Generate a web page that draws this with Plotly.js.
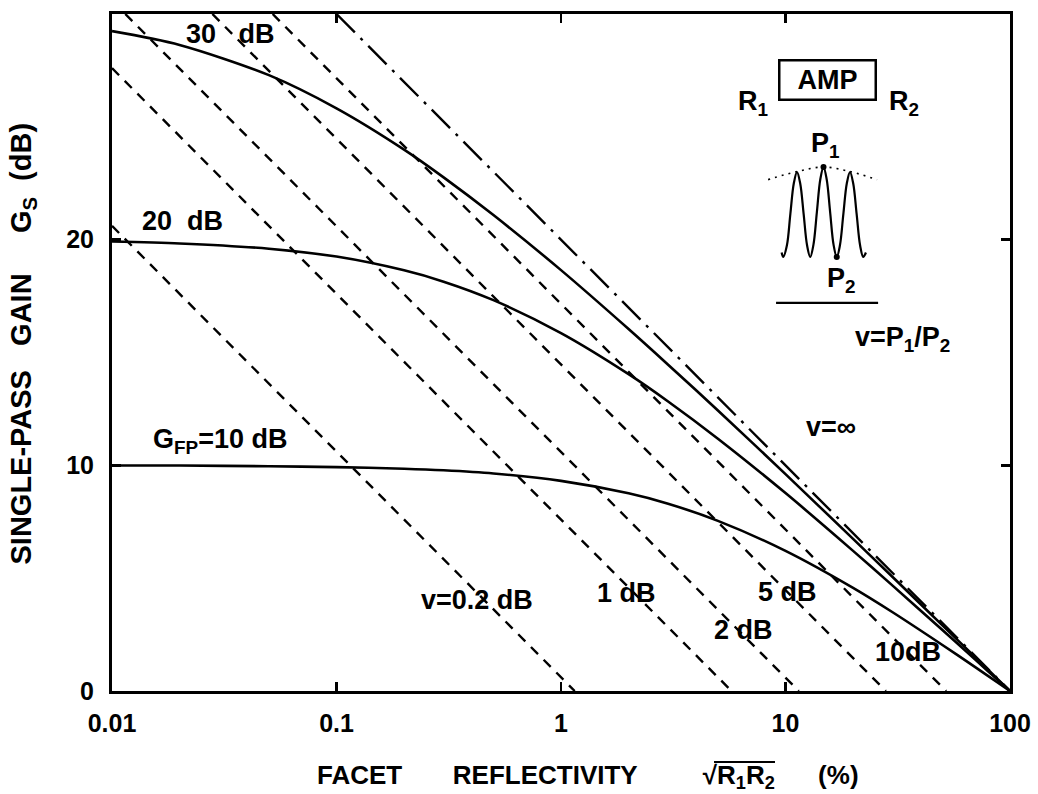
<!DOCTYPE html>
<html><head><meta charset="utf-8">
<script src="https://cdn.plot.ly/plotly-3.0.1.min.js"></script>
<style>html,body{margin:0;padding:0;background:#fff}#chart{width:1038px;height:794px}</style>
</head><body><div id="chart"></div>
<script>
// Facet reflectivity sqrt(R1R2) in %
const reflectivity = [0.01,0.02,0.05,0.1,0.2,0.3,0.5,1,2,3,5,10,20,30,50,70,90,100];
// Single-pass gain Gs (dB) for constant Fabry-Perot gain
const gainFP10 = [9.99,9.99,9.96,9.92,9.85,9.78,9.64,9.31,8.76,8.30,7.54,6.21,4.57,3.49,2.04,1.06,0.31,0];
const gainFP20 = [19.92,19.83,19.60,19.25,18.64,18.14,17.32,15.86,14.04,12.83,11.18,8.77,6.21,4.67,2.70,1.39,0.41,0];
const gainFP30 = [29.24,28.63,27.29,25.82,23.99,22.76,21.09,18.65,16.04,14.46,12.43,9.61,6.74,5.05,2.91,1.50,0.44,0];
// Constant ripple lines (end points)
const ripple02X = [0.01, 1.151],   ripple02Y = [20.61, 0];
const ripple1X  = [0.01, 5.75],    ripple1Y  = [27.60, 0];
const ripple2X  = [0.01146, 11.46],ripple2Y  = [30, 0];
const ripple5X  = [0.0280, 28.0],  ripple5Y  = [30, 0];
const ripple10X = [0.05195, 51.95],ripple10Y = [30, 0];
const rippleInfX= [0.1, 100],      rippleInfY= [30, 0];
// Ticks
const xTickVals = [0.01,0.1,1,10,100];
const xTickText = ['0.01','0.1','1','10','100'];
const yTickVals = [0,10,20,30];
const yTickText = ['0','10','20','30'];
// Inset: FP transmission sketch (phase, relative intensity)
const insetPhase = [0.42,0.48,0.62,0.75,0.88,1.0,1.12,1.25,1.38,1.5,1.62,1.75,1.88,2.0,2.12,2.25,2.38,2.5,2.62,2.75,2.88,3.0,3.12,3.25,3.38,3.5,3.6];
const insetIntensity = [0.05,0.0,0.13,0.48,0.82,0.944,0.82,0.48,0.13,0.0,0.135,0.5,0.865,1.0,0.865,0.5,0.135,0.0,0.13,0.48,0.82,0.944,0.82,0.48,0.13,0.0,0.05];
const envelopePhase = [-0.09,1.0,2.0,3.0,4.02];
const envelopeIntensity = [0.86,0.95,1.0,0.95,0.86];
const pointPhase = [2.0,2.5];
const pointIntensity = [1.0,0.0];
const barPhase = [0.21,4.06];
const barIntensity = [-0.51,-0.51];

const FONT = 'Liberation Sans, Arial, Helvetica, sans-serif';
const solid = {color:'#000', width:2.6, shape:'spline', smoothing:0.8};
const dashed = {color:'#000', width:2.4, dash:'10px,8px'};
const dashdot = {color:'#000', width:2.4, dash:'26px,8px,3px,8px'};

function tr(x,y,line,extra){return Object.assign({x:x,y:y,mode:'lines',line:line,hoverinfo:'skip',showlegend:false},extra||{});}

const data = [
  tr(reflectivity,gainFP10,solid),
  tr(reflectivity,gainFP20,solid),
  tr(reflectivity,gainFP30,solid),
  tr(ripple02X,ripple02Y,dashed),
  tr(ripple1X,ripple1Y,dashed),
  tr(ripple2X,ripple2Y,dashed),
  tr(ripple5X,ripple5Y,dashed),
  tr(ripple10X,ripple10Y,dashed),
  tr(rippleInfX,rippleInfY,dashdot),
  tr(insetPhase,insetIntensity,{color:'#000',width:2.2,shape:'spline',smoothing:1},{xaxis:'x2',yaxis:'y2'}),
  tr(envelopePhase,envelopeIntensity,{color:'#000',width:1.6,dash:'2px,5px',shape:'spline'},{xaxis:'x2',yaxis:'y2'}),
  tr(barPhase,barIntensity,{color:'#000',width:2.2},{xaxis:'x2',yaxis:'y2'}),
  {x:pointPhase,y:pointIntensity,mode:'markers',marker:{color:'#000',size:6},xaxis:'x2',yaxis:'y2',hoverinfo:'skip',showlegend:false}
];

const F = (size)=>({family:FONT,size:size,color:'#000',weight:'bold'});
const ann = (x,y,text,size,extra)=>Object.assign({x:x,y:y,xref:'x',yref:'y',xanchor:'center',yanchor:'middle',text:text,showarrow:false,font:F(size||27)},extra||{});
const pan = (x,y,text,size,extra)=>Object.assign({x:x,y:y,xref:'paper',yref:'paper',xanchor:'center',yanchor:'middle',text:text,showarrow:false,font:F(size||27)},extra||{});
const sp = (n)=>'&nbsp;'.repeat(n);

const layout = {
  width:1038, height:794,
  margin:{l:112,r:28,t:14,b:103},
  paper_bgcolor:'#fff', plot_bgcolor:'#fff',
  font:{family:FONT,color:'#000'},
  showlegend:false,
  xaxis:{type:'log',range:[-2,2],tickvals:xTickVals,ticktext:xTickText,ticks:'inside',ticklen:9,tickwidth:2.5,tickcolor:'#000',
    showline:true,linewidth:3,linecolor:'#000',mirror:'ticks',showgrid:false,zeroline:false,
    tickfont:F(25),ticklabelstandoff:8},
  yaxis:{range:[0,30],tickvals:yTickVals,ticktext:yTickText,ticks:'inside',ticklen:9,tickwidth:2.5,tickcolor:'#000',
    showline:true,linewidth:3,linecolor:'#000',mirror:'ticks',showgrid:false,zeroline:false,
    tickfont:F(25),ticklabelstandoff:10},
  xaxis2:{domain:[0.7216,0.8664],range:[-0.396,4.51],visible:false,anchor:'y2'},
  yaxis2:{domain:[0.5628,0.7843],range:[-0.589,1.078],visible:false,anchor:'x2'},
  shapes:[
    {type:'line',xref:'paper',yref:'paper',x0:0.6704,x1:0.7383,y0:-0.1049,y1:-0.1049,line:{color:'#000',width:2}}
  ],
  annotations:[
    pan(0.2261,-0.127,'FACET'+sp(7)+'REFLECTIVITY'+sp(9)+'√R<sub>1</sub>R<sub>2</sub>'+sp(6)+'(%)',26,{xanchor:'left'}),
    pan(-0.0991,0.5133,'SINGLE-PASS'+sp(3)+'GAIN'+sp(5)+'G<sub>S</sub>'+sp(2)+'(dB)',29,{textangle:-90}),
    ann(-1.47,29.1,'30'+sp(3)+'dB'),
    ann(-1.684,20.83,'20'+sp(2)+'dB'),
    ann(-1.519,11.1,'G<sub>FP</sub>=10'+sp(1)+'dB'),
    ann(-0.374,4.04,'v=0.2'+sp(1)+'dB'),
    ann(0.290,4.35,'1'+sp(1)+'dB'),
    ann(1.011,4.4,'5'+sp(1)+'dB'),
    ann(0.811,2.7,'2'+sp(1)+'dB'),
    ann(1.546,1.73,'10dB'),
    pan(0.7138,0.8685,'R<sub>1</sub>'),
    pan(0.7973,0.9025,'AMP',27,{bordercolor:'#000',borderwidth:2.5,width:94,height:37,borderpad:0}),
    pan(0.8820,0.8685,'R<sub>2</sub>'),
    pan(0.795,0.8065,'P<sub>1</sub>'),
    pan(0.8129,0.6071,'P<sub>2</sub>'),
    pan(0.8808,0.520,'v=P<sub>1</sub>/P<sub>2</sub>'),
    pan(0.8007,0.390,'v=∞')
  ]
};
Plotly.newPlot('chart',data,layout,{staticPlot:true});
</script></body></html>
